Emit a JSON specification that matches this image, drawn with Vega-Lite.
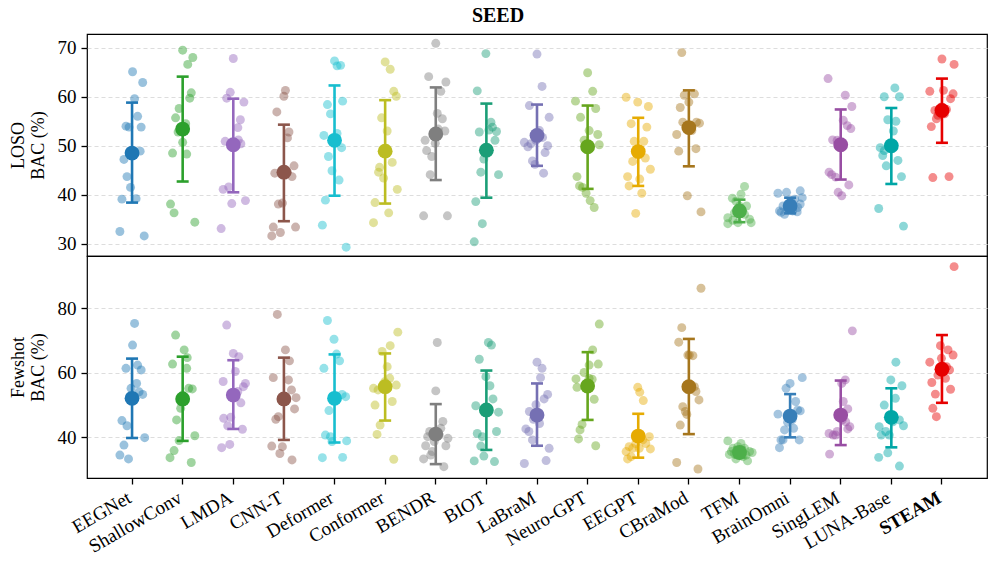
{
  "$schema": "https://vega.github.io/schema/vega-lite/v6.json",
  "background": "white",
  "padding": {"left": 8, "top": 6, "right": 5, "bottom": 5},
  "bounds": "flush",
  "title": {"text": "SEED", "font": "Liberation Serif", "fontSize": 20, "fontWeight": "bold", "color": "black", "anchor": "middle", "offset": 7},
  "config": {
    "font": "Liberation Serif",
    "view": {"stroke": "black", "strokeWidth": 1.2},
    "axis": {
      "domain": false,
      "labelFont": "Liberation Serif",
      "labelFontSize": 19,
      "labelColor": "black",
      "tickColor": "black",
      "tickSize": 6,
      "tickWidth": 1.3,
      "titleFont": "Liberation Serif",
      "titleFontSize": 18,
      "titleFontWeight": "normal",
      "titleColor": "black",
      "gridColor": "#dddddd",
      "gridDash": [4, 3],
      "gridWidth": 1
    }
  },
  "datasets": {
    "loso": [
      {"m":"EEGNet","j":0.01,"v":65.1},{"m":"EEGNet","j":0.21,"v":62.9},{"m":"EEGNet","j":0.05,"v":59.6},{"m":"EEGNet","j":0.11,"v":56.0},{"m":"EEGNet","j":-0.12,"v":54.0},{"m":"EEGNet","j":0.18,"v":53.8},{"m":"EEGNet","j":-0.06,"v":53.8},{"m":"EEGNet","j":0.16,"v":48.9},{"m":"EEGNet","j":-0.16,"v":47.2},{"m":"EEGNet","j":-0.10,"v":43.7},{"m":"EEGNet","j":-0.03,"v":41.5},{"m":"EEGNet","j":-0.2,"v":39.1},{"m":"EEGNet","j":0.08,"v":39.2},{"m":"EEGNet","j":-0.24,"v":32.5},{"m":"EEGNet","j":0.24,"v":31.6},
      {"m":"ShallowConv","j":0,"v":69.5},{"m":"ShallowConv","j":0.2,"v":68.0},{"m":"ShallowConv","j":0.1,"v":66.6},{"m":"ShallowConv","j":0.17,"v":60.8},{"m":"ShallowConv","j":0.14,"v":59.7},{"m":"ShallowConv","j":-0.07,"v":57.6},{"m":"ShallowConv","j":-0.14,"v":55.7},{"m":"ShallowConv","j":-0.09,"v":52.8},{"m":"ShallowConv","j":0,"v":50.7},{"m":"ShallowConv","j":-0.2,"v":48.5},{"m":"ShallowConv","j":0.08,"v":48.3},{"m":"ShallowConv","j":-0.24,"v":38.1},{"m":"ShallowConv","j":-0.17,"v":36.3},{"m":"ShallowConv","j":0.24,"v":34.4},{"m":"ShallowConv","j":0.06,"v":54.5},
      {"m":"LMDA","j":0,"v":67.8},{"m":"LMDA","j":-0.06,"v":60.9},{"m":"LMDA","j":-0.13,"v":59.7},{"m":"LMDA","j":0.21,"v":58.9},{"m":"LMDA","j":0.14,"v":55.3},{"m":"LMDA","j":0.09,"v":53.7},{"m":"LMDA","j":-0.16,"v":50.9},{"m":"LMDA","j":0.15,"v":50.4},{"m":"LMDA","j":0.1,"v":51.2},{"m":"LMDA","j":-0.2,"v":41.1},{"m":"LMDA","j":-0.09,"v":41.6},{"m":"LMDA","j":-0.03,"v":38.2},{"m":"LMDA","j":0.24,"v":38.8},{"m":"LMDA","j":-0.24,"v":33.1},{"m":"LMDA","j":0.02,"v":50.0},
      {"m":"CNN-T","j":0.03,"v":61.3},{"m":"CNN-T","j":0,"v":60.1},{"m":"CNN-T","j":-0.14,"v":56.9},{"m":"CNN-T","j":0.1,"v":52.8},{"m":"CNN-T","j":0.07,"v":51.6},{"m":"CNN-T","j":0.2,"v":45.9},{"m":"CNN-T","j":-0.18,"v":44.4},{"m":"CNN-T","j":0.16,"v":43.7},{"m":"CNN-T","j":-0.03,"v":38.3},{"m":"CNN-T","j":-0.11,"v":38.1},{"m":"CNN-T","j":-0.21,"v":33.4},{"m":"CNN-T","j":0.23,"v":33.4},{"m":"CNN-T","j":-0.07,"v":32.3},{"m":"CNN-T","j":-0.24,"v":31.6},{"m":"CNN-T","j":0.07,"v":44.6},
      {"m":"Deformer","j":0,"v":67.3},{"m":"Deformer","j":0.12,"v":66.4},{"m":"Deformer","j":0.05,"v":66.3},{"m":"Deformer","j":-0.14,"v":58.4},{"m":"Deformer","j":0.16,"v":59.1},{"m":"Deformer","j":-0.08,"v":56.5},{"m":"Deformer","j":-0.21,"v":52.1},{"m":"Deformer","j":0.05,"v":52.5},{"m":"Deformer","j":0.14,"v":49.6},{"m":"Deformer","j":-0.12,"v":47.8},{"m":"Deformer","j":-0.05,"v":44.9},{"m":"Deformer","j":0.09,"v":43.0},{"m":"Deformer","j":-0.18,"v":38.9},{"m":"Deformer","j":-0.24,"v":33.8},{"m":"Deformer","j":0.23,"v":29.3},
      {"m":"Conformer","j":0,"v":67.1},{"m":"Conformer","j":0.1,"v":65.6},{"m":"Conformer","j":0.17,"v":61.1},{"m":"Conformer","j":0.22,"v":60.1},{"m":"Conformer","j":-0.07,"v":55.7},{"m":"Conformer","j":0.04,"v":53.0},{"m":"Conformer","j":-0.11,"v":45.6},{"m":"Conformer","j":-0.13,"v":44.6},{"m":"Conformer","j":-0.03,"v":43.4},{"m":"Conformer","j":0.14,"v":46.6},{"m":"Conformer","j":0.24,"v":41.1},{"m":"Conformer","j":-0.2,"v":38.4},{"m":"Conformer","j":0.07,"v":36.3},{"m":"Conformer","j":-0.23,"v":34.3},{"m":"Conformer","j":0.02,"v":49.5},
      {"m":"BENDR","j":0,"v":70.9},{"m":"BENDR","j":-0.14,"v":64.1},{"m":"BENDR","j":0.2,"v":63.0},{"m":"BENDR","j":0.1,"v":61.1},{"m":"BENDR","j":0.13,"v":55.5},{"m":"BENDR","j":0.18,"v":53.0},{"m":"BENDR","j":0.05,"v":53.4},{"m":"BENDR","j":-0.21,"v":51.1},{"m":"BENDR","j":-0.18,"v":49.0},{"m":"BENDR","j":-0.08,"v":47.8},{"m":"BENDR","j":-0.11,"v":44.1},{"m":"BENDR","j":-0.24,"v":35.7},{"m":"BENDR","j":0.23,"v":35.7},{"m":"BENDR","j":-0.01,"v":50.5},{"m":"BENDR","j":0.03,"v":56.6},
      {"m":"BIOT","j":-0.01,"v":68.8},{"m":"BIOT","j":-0.18,"v":61.2},{"m":"BIOT","j":0.09,"v":54.8},{"m":"BIOT","j":0.05,"v":53.2},{"m":"BIOT","j":0.2,"v":52.9},{"m":"BIOT","j":-0.14,"v":52.8},{"m":"BIOT","j":0.17,"v":51.1},{"m":"BIOT","j":-0.05,"v":49.0},{"m":"BIOT","j":-0.05,"v":47.3},{"m":"BIOT","j":-0.11,"v":44.6},{"m":"BIOT","j":0.24,"v":44.1},{"m":"BIOT","j":-0.21,"v":38.6},{"m":"BIOT","j":-0.08,"v":34.1},{"m":"BIOT","j":-0.24,"v":30.4},{"m":"BIOT","j":0.12,"v":53.8},
      {"m":"LaBraM","j":0,"v":68.7},{"m":"LaBraM","j":0.1,"v":62.1},{"m":"LaBraM","j":-0.15,"v":58.2},{"m":"LaBraM","j":0.24,"v":55.8},{"m":"LaBraM","j":-0.25,"v":50.7},{"m":"LaBraM","j":-0.18,"v":49.8},{"m":"LaBraM","j":0.21,"v":50.0},{"m":"LaBraM","j":0.16,"v":48.6},{"m":"LaBraM","j":-0.09,"v":46.9},{"m":"LaBraM","j":-0.04,"v":46.2},{"m":"LaBraM","j":0.13,"v":44.4},{"m":"LaBraM","j":0.05,"v":53.1},{"m":"LaBraM","j":-0.02,"v":51.1},{"m":"LaBraM","j":-0.12,"v":50.4},{"m":"LaBraM","j":0.11,"v":51.7},
      {"m":"Neuro-GPT","j":0,"v":64.9},{"m":"Neuro-GPT","j":0.1,"v":61.1},{"m":"Neuro-GPT","j":-0.24,"v":59.1},{"m":"Neuro-GPT","j":0.16,"v":57.6},{"m":"Neuro-GPT","j":-0.14,"v":55.8},{"m":"Neuro-GPT","j":0.2,"v":52.3},{"m":"Neuro-GPT","j":-0.07,"v":51.1},{"m":"Neuro-GPT","j":0.23,"v":50.2},{"m":"Neuro-GPT","j":-0.21,"v":43.7},{"m":"Neuro-GPT","j":-0.16,"v":41.8},{"m":"Neuro-GPT","j":-0.1,"v":41.5},{"m":"Neuro-GPT","j":-0.03,"v":40.3},{"m":"Neuro-GPT","j":0.05,"v":38.8},{"m":"Neuro-GPT","j":0.13,"v":37.4},{"m":"Neuro-GPT","j":0.03,"v":53.1},
      {"m":"EEGPT","j":-0.24,"v":59.9},{"m":"EEGPT","j":-0.01,"v":58.9},{"m":"EEGPT","j":0.2,"v":58.0},{"m":"EEGPT","j":-0.14,"v":54.5},{"m":"EEGPT","j":0.17,"v":53.8},{"m":"EEGPT","j":-0.08,"v":50.9},{"m":"EEGPT","j":0.11,"v":50.9},{"m":"EEGPT","j":0.14,"v":47.5},{"m":"EEGPT","j":-0.11,"v":46.8},{"m":"EEGPT","j":0.24,"v":45.2},{"m":"EEGPT","j":-0.21,"v":43.7},{"m":"EEGPT","j":0.03,"v":43.2},{"m":"EEGPT","j":-0.18,"v":41.8},{"m":"EEGPT","j":0.07,"v":40.3},{"m":"EEGPT","j":-0.05,"v":36.2},
      {"m":"CBraMod","j":-0.14,"v":69.0},{"m":"CBraMod","j":0.11,"v":60.6},{"m":"CBraMod","j":-0.09,"v":60.3},{"m":"CBraMod","j":0,"v":58.9},{"m":"CBraMod","j":-0.17,"v":57.8},{"m":"CBraMod","j":-0.12,"v":54.8},{"m":"CBraMod","j":0.21,"v":54.6},{"m":"CBraMod","j":0.15,"v":54.8},{"m":"CBraMod","j":-0.24,"v":52.3},{"m":"CBraMod","j":0.06,"v":53.1},{"m":"CBraMod","j":0.14,"v":49.4},{"m":"CBraMod","j":-0.2,"v":48.9},{"m":"CBraMod","j":-0.03,"v":39.8},{"m":"CBraMod","j":0.24,"v":36.5},{"m":"CBraMod","j":0.01,"v":53.1},
      {"m":"TFM","j":0.1,"v":41.7},{"m":"TFM","j":0.03,"v":40.1},{"m":"TFM","j":-0.14,"v":39.3},{"m":"TFM","j":0.14,"v":37.7},{"m":"TFM","j":-0.23,"v":35.3},{"m":"TFM","j":-0.23,"v":34.1},{"m":"TFM","j":0.23,"v":34.3},{"m":"TFM","j":-0.03,"v":34.3},{"m":"TFM","j":-0.1,"v":36.3},{"m":"TFM","j":0.1,"v":36.0},{"m":"TFM","j":0,"v":37.7},{"m":"TFM","j":-0.13,"v":34.8},{"m":"TFM","j":0.2,"v":35.0},{"m":"TFM","j":-0.07,"v":38.7},{"m":"TFM","j":0.05,"v":36.7},
      {"m":"BrainOmni","j":-0.24,"v":40.3},{"m":"BrainOmni","j":-0.07,"v":40.5},{"m":"BrainOmni","j":0.2,"v":40.8},{"m":"BrainOmni","j":0.24,"v":39.4},{"m":"BrainOmni","j":0.09,"v":39.1},{"m":"BrainOmni","j":0.2,"v":38.1},{"m":"BrainOmni","j":-0.18,"v":36.4},{"m":"BrainOmni","j":-0.21,"v":36.7},{"m":"BrainOmni","j":-0.11,"v":36.0},{"m":"BrainOmni","j":0.14,"v":36.5},{"m":"BrainOmni","j":0.02,"v":38.7},{"m":"BrainOmni","j":-0.05,"v":37.4},{"m":"BrainOmni","j":-0.14,"v":37.7},{"m":"BrainOmni","j":0.15,"v":37.4},{"m":"BrainOmni","j":0.05,"v":36.7},
      {"m":"SingLEM","j":-0.25,"v":63.7},{"m":"SingLEM","j":0.09,"v":60.3},{"m":"SingLEM","j":0.22,"v":58.0},{"m":"SingLEM","j":0.05,"v":55.2},{"m":"SingLEM","j":0.13,"v":54.1},{"m":"SingLEM","j":0.2,"v":53.5},{"m":"SingLEM","j":-0.16,"v":51.2},{"m":"SingLEM","j":-0.07,"v":51.1},{"m":"SingLEM","j":-0.23,"v":44.6},{"m":"SingLEM","j":-0.18,"v":44.1},{"m":"SingLEM","j":0.16,"v":42.0},{"m":"SingLEM","j":-0.05,"v":40.5},{"m":"SingLEM","j":0.02,"v":39.8},{"m":"SingLEM","j":0.03,"v":50.4},{"m":"SingLEM","j":-0.1,"v":43.6},
      {"m":"LUNA-Base","j":0.07,"v":61.8},{"m":"LUNA-Base","j":-0.14,"v":60.0},{"m":"LUNA-Base","j":0.16,"v":60.0},{"m":"LUNA-Base","j":-0.07,"v":55.3},{"m":"LUNA-Base","j":0.09,"v":55.0},{"m":"LUNA-Base","j":0.04,"v":53.0},{"m":"LUNA-Base","j":-0.22,"v":49.6},{"m":"LUNA-Base","j":-0.17,"v":48.0},{"m":"LUNA-Base","j":0.13,"v":47.0},{"m":"LUNA-Base","j":-0.1,"v":45.9},{"m":"LUNA-Base","j":0.2,"v":43.7},{"m":"LUNA-Base","j":-0.25,"v":37.2},{"m":"LUNA-Base","j":0.24,"v":33.6},{"m":"LUNA-Base","j":-0.04,"v":50.4},{"m":"LUNA-Base","j":-0.14,"v":49.0},
      {"m":"STEAM","j":0,"v":67.7},{"m":"STEAM","j":0.24,"v":66.6},{"m":"STEAM","j":-0.24,"v":61.1},{"m":"STEAM","j":0.03,"v":61.3},{"m":"STEAM","j":0.22,"v":60.6},{"m":"STEAM","j":0.17,"v":59.6},{"m":"STEAM","j":-0.14,"v":57.2},{"m":"STEAM","j":0.09,"v":57.4},{"m":"STEAM","j":-0.08,"v":56.2},{"m":"STEAM","j":-0.11,"v":55.5},{"m":"STEAM","j":-0.21,"v":53.9},{"m":"STEAM","j":-0.18,"v":43.5},{"m":"STEAM","j":0.14,"v":43.7},{"m":"STEAM","j":-0.01,"v":57.9},{"m":"STEAM","j":0.05,"v":56.5}
    ],
    "few": [
      {"m":"EEGNet","j":0.05,"v":75.3},{"m":"EEGNet","j":0.01,"v":68.6},{"m":"EEGNet","j":-0.12,"v":61.4},{"m":"EEGNet","j":0.11,"v":62.4},{"m":"EEGNet","j":0.18,"v":60.9},{"m":"EEGNet","j":0.09,"v":56.7},{"m":"EEGNet","j":-0.02,"v":55.2},{"m":"EEGNet","j":0.21,"v":53.3},{"m":"EEGNet","j":-0.2,"v":45.2},{"m":"EEGNet","j":-0.1,"v":43.6},{"m":"EEGNet","j":0.25,"v":39.9},{"m":"EEGNet","j":-0.16,"v":37.6},{"m":"EEGNet","j":-0.24,"v":34.5},{"m":"EEGNet","j":-0.07,"v":33.3},{"m":"EEGNet","j":0.14,"v":54.1},
      {"m":"ShallowConv","j":-0.14,"v":71.7},{"m":"ShallowConv","j":0.03,"v":67.1},{"m":"ShallowConv","j":0.09,"v":64.7},{"m":"ShallowConv","j":-0.2,"v":62.7},{"m":"ShallowConv","j":0.08,"v":61.4},{"m":"ShallowConv","j":0.19,"v":55.0},{"m":"ShallowConv","j":-0.04,"v":49.0},{"m":"ShallowConv","j":-0.12,"v":45.4},{"m":"ShallowConv","j":-0.07,"v":39.0},{"m":"ShallowConv","j":0.24,"v":40.5},{"m":"ShallowConv","j":-0.17,"v":35.9},{"m":"ShallowConv","j":-0.25,"v":33.7},{"m":"ShallowConv","j":0.17,"v":32.2},{"m":"ShallowConv","j":0.12,"v":55.2},{"m":"ShallowConv","j":0,"v":53.1},
      {"m":"LMDA","j":-0.13,"v":74.8},{"m":"LMDA","j":0,"v":66.0},{"m":"LMDA","j":0.11,"v":65.0},{"m":"LMDA","j":0.04,"v":60.4},{"m":"LMDA","j":-0.2,"v":57.3},{"m":"LMDA","j":0.24,"v":56.7},{"m":"LMDA","j":0.2,"v":55.7},{"m":"LMDA","j":0.15,"v":50.7},{"m":"LMDA","j":-0.19,"v":45.9},{"m":"LMDA","j":-0.05,"v":46.2},{"m":"LMDA","j":-0.11,"v":43.6},{"m":"LMDA","j":0.18,"v":42.5},{"m":"LMDA","j":-0.23,"v":36.8},{"m":"LMDA","j":-0.07,"v":37.8},{"m":"LMDA","j":0.09,"v":54.2},
      {"m":"CNN-T","j":-0.13,"v":78.1},{"m":"CNN-T","j":0.03,"v":67.1},{"m":"CNN-T","j":0.11,"v":63.7},{"m":"CNN-T","j":-0.21,"v":58.5},{"m":"CNN-T","j":0.09,"v":57.8},{"m":"CNN-T","j":0.15,"v":54.7},{"m":"CNN-T","j":0.24,"v":52.3},{"m":"CNN-T","j":0.21,"v":48.8},{"m":"CNN-T","j":-0.16,"v":45.6},{"m":"CNN-T","j":-0.11,"v":46.4},{"m":"CNN-T","j":-0.24,"v":37.3},{"m":"CNN-T","j":-0.03,"v":37.1},{"m":"CNN-T","j":-0.08,"v":35.0},{"m":"CNN-T","j":0.16,"v":33.0},{"m":"CNN-T","j":0,"v":51.1},
      {"m":"Deformer","j":-0.14,"v":76.2},{"m":"Deformer","j":-0.01,"v":70.4},{"m":"Deformer","j":0.04,"v":65.8},{"m":"Deformer","j":0.1,"v":63.7},{"m":"Deformer","j":-0.21,"v":61.4},{"m":"Deformer","j":0.15,"v":53.3},{"m":"Deformer","j":0.22,"v":52.6},{"m":"Deformer","j":-0.11,"v":48.3},{"m":"Deformer","j":-0.18,"v":40.7},{"m":"Deformer","j":-0.05,"v":38.7},{"m":"Deformer","j":0.24,"v":38.9},{"m":"Deformer","j":-0.24,"v":33.7},{"m":"Deformer","j":0.16,"v":33.8},{"m":"Deformer","j":0.02,"v":52.1},{"m":"Deformer","j":-0.08,"v":40.2},
      {"m":"Conformer","j":0.25,"v":72.6},{"m":"Conformer","j":0.1,"v":68.4},{"m":"Conformer","j":-0.06,"v":66.6},{"m":"Conformer","j":0.04,"v":61.9},{"m":"Conformer","j":0.09,"v":58.3},{"m":"Conformer","j":0.22,"v":56.2},{"m":"Conformer","j":-0.23,"v":55.2},{"m":"Conformer","j":-0.14,"v":54.7},{"m":"Conformer","j":0.14,"v":51.1},{"m":"Conformer","j":-0.2,"v":50.0},{"m":"Conformer","j":-0.1,"v":43.8},{"m":"Conformer","j":-0.16,"v":40.9},{"m":"Conformer","j":0.17,"v":33.2},{"m":"Conformer","j":-0.01,"v":57.2},{"m":"Conformer","j":0.05,"v":55.2},
      {"m":"BENDR","j":0.03,"v":69.4},{"m":"BENDR","j":0,"v":54.4},{"m":"BENDR","j":0.14,"v":44.9},{"m":"BENDR","j":-0.12,"v":41.8},{"m":"BENDR","j":0.24,"v":39.7},{"m":"BENDR","j":-0.2,"v":37.4},{"m":"BENDR","j":0.2,"v":37.4},{"m":"BENDR","j":-0.07,"v":35.6},{"m":"BENDR","j":-0.24,"v":33.3},{"m":"BENDR","j":0.16,"v":30.9},{"m":"BENDR","j":0.07,"v":40.7},{"m":"BENDR","j":-0.03,"v":38.7},{"m":"BENDR","j":-0.16,"v":40.2},{"m":"BENDR","j":-0.1,"v":34.5},{"m":"BENDR","j":0.1,"v":42.8},
      {"m":"BIOT","j":0.04,"v":69.4},{"m":"BIOT","j":0.1,"v":68.6},{"m":"BIOT","j":-0.14,"v":64.2},{"m":"BIOT","j":-0.01,"v":58.8},{"m":"BIOT","j":0.07,"v":56.0},{"m":"BIOT","j":0.13,"v":51.9},{"m":"BIOT","j":-0.21,"v":49.8},{"m":"BIOT","j":0.24,"v":47.8},{"m":"BIOT","j":0.2,"v":41.8},{"m":"BIOT","j":-0.18,"v":41.2},{"m":"BIOT","j":-0.08,"v":40.2},{"m":"BIOT","j":-0.11,"v":37.3},{"m":"BIOT","j":-0.05,"v":34.2},{"m":"BIOT","j":-0.24,"v":32.7},{"m":"BIOT","j":0.16,"v":32.5},
      {"m":"LaBraM","j":0,"v":63.3},{"m":"LaBraM","j":0.1,"v":61.4},{"m":"LaBraM","j":0.07,"v":58.5},{"m":"LaBraM","j":0.21,"v":53.3},{"m":"LaBraM","j":0.14,"v":51.9},{"m":"LaBraM","j":-0.15,"v":48.0},{"m":"LaBraM","j":-0.07,"v":45.6},{"m":"LaBraM","j":-0.22,"v":42.6},{"m":"LaBraM","j":-0.16,"v":41.8},{"m":"LaBraM","j":-0.09,"v":39.2},{"m":"LaBraM","j":0.24,"v":36.6},{"m":"LaBraM","j":-0.25,"v":31.9},{"m":"LaBraM","j":0.18,"v":32.8},{"m":"LaBraM","j":0.05,"v":44.3},{"m":"LaBraM","j":-0.02,"v":50.1},
      {"m":"Neuro-GPT","j":0.23,"v":75.1},{"m":"Neuro-GPT","j":0.1,"v":67.1},{"m":"Neuro-GPT","j":0.21,"v":62.7},{"m":"Neuro-GPT","j":0.03,"v":62.4},{"m":"Neuro-GPT","j":-0.07,"v":60.1},{"m":"Neuro-GPT","j":-0.23,"v":58.1},{"m":"Neuro-GPT","j":0.09,"v":58.0},{"m":"Neuro-GPT","j":-0.21,"v":55.5},{"m":"Neuro-GPT","j":0.13,"v":51.8},{"m":"Neuro-GPT","j":-0.11,"v":44.0},{"m":"Neuro-GPT","j":-0.15,"v":42.3},{"m":"Neuro-GPT","j":-0.18,"v":39.5},{"m":"Neuro-GPT","j":0.16,"v":37.4},{"m":"Neuro-GPT","j":-0.03,"v":55.2},{"m":"Neuro-GPT","j":0.03,"v":58.3},
      {"m":"EEGPT","j":-0.01,"v":55.5},{"m":"EEGPT","j":0.03,"v":54.0},{"m":"EEGPT","j":0.1,"v":51.4},{"m":"EEGPT","j":0.22,"v":40.2},{"m":"EEGPT","j":0.15,"v":38.1},{"m":"EEGPT","j":0.24,"v":36.4},{"m":"EEGPT","j":-0.18,"v":37.1},{"m":"EEGPT","j":-0.24,"v":35.6},{"m":"EEGPT","j":-0.11,"v":36.6},{"m":"EEGPT","j":-0.21,"v":33.3},{"m":"EEGPT","j":-0.14,"v":34.0},{"m":"EEGPT","j":0.09,"v":39.2},{"m":"EEGPT","j":-0.05,"v":38.1},{"m":"EEGPT","j":0.02,"v":36.6},{"m":"EEGPT","j":0.05,"v":40.2},
      {"m":"CBraMod","j":0.24,"v":86.2},{"m":"CBraMod","j":-0.14,"v":74.0},{"m":"CBraMod","j":-0.2,"v":69.5},{"m":"CBraMod","j":0.01,"v":65.5},{"m":"CBraMod","j":0.08,"v":65.3},{"m":"CBraMod","j":0.14,"v":54.2},{"m":"CBraMod","j":0.2,"v":51.6},{"m":"CBraMod","j":-0.12,"v":49.5},{"m":"CBraMod","j":-0.07,"v":48.0},{"m":"CBraMod","j":-0.04,"v":47.1},{"m":"CBraMod","j":-0.17,"v":43.8},{"m":"CBraMod","j":-0.24,"v":32.2},{"m":"CBraMod","j":0.18,"v":30.2},{"m":"CBraMod","j":-0.02,"v":65.5},{"m":"CBraMod","j":0.11,"v":55.7},
      {"m":"TFM","j":-0.23,"v":38.9},{"m":"TFM","j":0.03,"v":38.1},{"m":"TFM","j":-0.13,"v":36.6},{"m":"TFM","j":0.2,"v":35.6},{"m":"TFM","j":0.25,"v":35.3},{"m":"TFM","j":-0.2,"v":34.7},{"m":"TFM","j":-0.07,"v":33.3},{"m":"TFM","j":0.16,"v":32.7},{"m":"TFM","j":0,"v":34.5},{"m":"TFM","j":0.1,"v":36.6},{"m":"TFM","j":-0.1,"v":35.0},{"m":"TFM","j":0.07,"v":34.0},{"m":"TFM","j":-0.03,"v":37.1},{"m":"TFM","j":-0.16,"v":35.6},{"m":"TFM","j":0.13,"v":34.5},
      {"m":"BrainOmni","j":0.24,"v":58.5},{"m":"BrainOmni","j":0,"v":56.7},{"m":"BrainOmni","j":-0.08,"v":55.2},{"m":"BrainOmni","j":0.11,"v":51.1},{"m":"BrainOmni","j":0.2,"v":48.2},{"m":"BrainOmni","j":-0.24,"v":47.2},{"m":"BrainOmni","j":0.15,"v":48.5},{"m":"BrainOmni","j":0.07,"v":42.8},{"m":"BrainOmni","j":-0.11,"v":42.3},{"m":"BrainOmni","j":-0.14,"v":39.2},{"m":"BrainOmni","j":0.18,"v":39.2},{"m":"BrainOmni","j":-0.21,"v":36.8},{"m":"BrainOmni","j":-0.05,"v":44.7},{"m":"BrainOmni","j":0.04,"v":45.4},{"m":"BrainOmni","j":-0.18,"v":39.2},
      {"m":"SingLEM","j":0.23,"v":73.0},{"m":"SingLEM","j":0.09,"v":57.8},{"m":"SingLEM","j":0.02,"v":56.7},{"m":"SingLEM","j":0.05,"v":51.1},{"m":"SingLEM","j":0.14,"v":48.8},{"m":"SingLEM","j":-0.23,"v":41.2},{"m":"SingLEM","j":-0.15,"v":40.7},{"m":"SingLEM","j":-0.07,"v":41.8},{"m":"SingLEM","j":0.18,"v":43.3},{"m":"SingLEM","j":0.14,"v":42.6},{"m":"SingLEM","j":-0.22,"v":34.8},{"m":"SingLEM","j":-0.03,"v":46.9},{"m":"SingLEM","j":0.03,"v":45.4},{"m":"SingLEM","j":-0.1,"v":40.7},{"m":"SingLEM","j":0.1,"v":44.8},
      {"m":"LUNA-Base","j":0.09,"v":63.3},{"m":"LUNA-Base","j":-0.01,"v":57.8},{"m":"LUNA-Base","j":0.21,"v":56.0},{"m":"LUNA-Base","j":0.08,"v":52.1},{"m":"LUNA-Base","j":-0.14,"v":50.0},{"m":"LUNA-Base","j":0.16,"v":45.4},{"m":"LUNA-Base","j":0.24,"v":43.6},{"m":"LUNA-Base","j":-0.24,"v":43.3},{"m":"LUNA-Base","j":-0.11,"v":41.8},{"m":"LUNA-Base","j":-0.2,"v":40.7},{"m":"LUNA-Base","j":-0.04,"v":40.7},{"m":"LUNA-Base","j":-0.07,"v":35.2},{"m":"LUNA-Base","j":-0.25,"v":33.8},{"m":"LUNA-Base","j":0.16,"v":31.1},{"m":"LUNA-Base","j":0.03,"v":44.8},
      {"m":"STEAM","j":0.24,"v":92.9},{"m":"STEAM","j":-0.03,"v":68.4},{"m":"STEAM","j":0.12,"v":67.1},{"m":"STEAM","j":0.22,"v":65.5},{"m":"STEAM","j":-0.24,"v":63.3},{"m":"STEAM","j":0.09,"v":61.9},{"m":"STEAM","j":0.15,"v":60.9},{"m":"STEAM","j":-0.2,"v":57.0},{"m":"STEAM","j":0.07,"v":58.3},{"m":"STEAM","j":-0.13,"v":53.4},{"m":"STEAM","j":0.17,"v":54.9},{"m":"STEAM","j":-0.18,"v":49.0},{"m":"STEAM","j":-0.11,"v":46.4},{"m":"STEAM","j":-0.01,"v":64.5},{"m":"STEAM","j":-0.08,"v":59.3}
    ],
    "sloso": [
      {"m":"EEGNet","mean":48.5,"lo":38.4,"hi":58.8},{"m":"ShallowConv","mean":53.4,"lo":42.7,"hi":64.1},{"m":"LMDA","mean":50.2,"lo":40.5,"hi":59.6},{"m":"CNN-T","mean":44.6,"lo":34.6,"hi":54.3},{"m":"Deformer","mean":51.1,"lo":39.8,"hi":62.3},{"m":"Conformer","mean":48.9,"lo":38.2,"hi":59.3},{"m":"BENDR","mean":52.4,"lo":43.0,"hi":61.9},{"m":"BIOT","mean":49.1,"lo":39.4,"hi":58.6},{"m":"LaBraM","mean":52.1,"lo":45.9,"hi":58.4},{"m":"Neuro-GPT","mean":49.8,"lo":41.2,"hi":58.2},{"m":"EEGPT","mean":48.8,"lo":41.8,"hi":55.7},{"m":"CBraMod","mean":53.7,"lo":45.8,"hi":61.3},{"m":"TFM","mean":36.7,"lo":34.4,"hi":39.0},{"m":"BrainOmni","mean":37.7,"lo":36.2,"hi":39.4},{"m":"SingLEM","mean":50.2,"lo":43.1,"hi":57.4},{"m":"LUNA-Base","mean":50.0,"lo":42.2,"hi":57.7},{"m":"STEAM","mean":57.2,"lo":50.6,"hi":63.7}
    ],
    "sfew": [
      {"m":"EEGNet","mean":52.1,"lo":39.8,"hi":64.4},{"m":"ShallowConv","mean":51.9,"lo":38.9,"hi":65.0},{"m":"LMDA","mean":53.1,"lo":42.6,"hi":63.9},{"m":"CNN-T","mean":51.9,"lo":39.2,"hi":64.7},{"m":"Deformer","mean":52.1,"lo":38.4,"hi":65.7},{"m":"Conformer","mean":55.7,"lo":45.2,"hi":66.0},{"m":"BENDR","mean":41.0,"lo":31.7,"hi":50.3},{"m":"BIOT","mean":48.5,"lo":36.1,"hi":60.7},{"m":"LaBraM","mean":46.9,"lo":37.4,"hi":56.7},{"m":"Neuro-GPT","mean":55.9,"lo":45.4,"hi":66.4},{"m":"EEGPT","mean":40.4,"lo":33.7,"hi":47.3},{"m":"CBraMod","mean":55.7,"lo":41.0,"hi":70.5},{"m":"TFM","mean":35.3,"lo":33.8,"hi":36.8},{"m":"BrainOmni","mean":46.6,"lo":40.0,"hi":53.4},{"m":"SingLEM","mean":46.9,"lo":37.6,"hi":57.6},{"m":"LUNA-Base","mean":46.2,"lo":36.9,"hi":55.2},{"m":"STEAM","mean":61.1,"lo":50.7,"hi":71.7}
    ]
  },
  "vconcat": [
    {
      "width": 900,
      "height": 222,
      "encoding": {
        "x": {"field": "m", "type": "nominal", "sort": null,
          "scale": {"domain": ["EEGNet","ShallowConv","LMDA","CNN-T","Deformer","Conformer","BENDR","BIOT","LaBraM","Neuro-GPT","EEGPT","CBraMod","TFM","BrainOmni","SingLEM","LUNA-Base","STEAM"], "paddingInner": 0, "paddingOuter": 0.39},
          "axis": null},
        "color": {"field": "m", "type": "nominal", "legend": null,
          "scale": {"domain": ["EEGNet","ShallowConv","LMDA","CNN-T","Deformer","Conformer","BENDR","BIOT","LaBraM","Neuro-GPT","EEGPT","CBraMod","TFM","BrainOmni","SingLEM","LUNA-Base","STEAM"],
            "range": ["#1f77b4","#2ca02c","#9467bd","#8c564b","#17becf","#bcbd22","#7f7f7f","#1b9e77","#7570b3","#66a61e","#e6ab02","#a6761d","#4daf4a","#377eb8","#984ea3","#00a6a6","#e60000"]}}
      },
      "layer": [
        {
          "data": {"name": "loso"},
          "mark": {"type": "circle", "size": 80, "opacity": 0.45},
          "encoding": {
            "xOffset": {"field": "j", "type": "quantitative", "scale": {"domain": [-0.5, 0.5]}},
            "y": {"field": "v", "type": "quantitative",
              "scale": {"domain": [27.5, 72.8], "nice": false, "zero": false},
              "axis": {"values": [30, 40, 50, 60, 70], "grid": true, "title": ["LOSO", "BAC (%)"], "titlePadding": 10, "labelPadding": 5}}
          }
        },
        {
          "data": {"name": "sloso"},
          "mark": {"type": "rule", "strokeWidth": 2.6},
          "encoding": {"y": {"field": "lo", "type": "quantitative"}, "y2": {"field": "hi"}}
        },
        {
          "data": {"name": "sloso"},
          "mark": {"type": "tick", "size": 12, "thickness": 2.6, "opacity": 1},
          "encoding": {"y": {"field": "lo", "type": "quantitative"}}
        },
        {
          "data": {"name": "sloso"},
          "mark": {"type": "tick", "size": 12, "thickness": 2.6, "opacity": 1},
          "encoding": {"y": {"field": "hi", "type": "quantitative"}}
        },
        {
          "data": {"name": "sloso"},
          "mark": {"type": "circle", "size": 220, "opacity": 1},
          "encoding": {"y": {"field": "mean", "type": "quantitative"}}
        }
      ]
    },
    {
      "width": 900,
      "height": 222,
      "encoding": {
        "x": {"field": "m", "type": "nominal", "sort": null,
          "scale": {"domain": ["EEGNet","ShallowConv","LMDA","CNN-T","Deformer","Conformer","BENDR","BIOT","LaBraM","Neuro-GPT","EEGPT","CBraMod","TFM","BrainOmni","SingLEM","LUNA-Base","STEAM"], "paddingInner": 0, "paddingOuter": 0.39},
          "axis": {"title": null, "labelAngle": -30, "labelAlign": "right", "labelBaseline": "top", "labelPadding": 4, "labelOffset": -7,
            "labelFontWeight": {"expr": "datum.value === 'STEAM' ? 'bold' : 'normal'"}}},
        "color": {"field": "m", "type": "nominal", "legend": null,
          "scale": {"domain": ["EEGNet","ShallowConv","LMDA","CNN-T","Deformer","Conformer","BENDR","BIOT","LaBraM","Neuro-GPT","EEGPT","CBraMod","TFM","BrainOmni","SingLEM","LUNA-Base","STEAM"],
            "range": ["#1f77b4","#2ca02c","#9467bd","#8c564b","#17becf","#bcbd22","#7f7f7f","#1b9e77","#7570b3","#66a61e","#e6ab02","#a6761d","#4daf4a","#377eb8","#984ea3","#00a6a6","#e60000"]}}
      },
      "layer": [
        {
          "data": {"name": "few"},
          "mark": {"type": "circle", "size": 80, "opacity": 0.45},
          "encoding": {
            "xOffset": {"field": "j", "type": "quantitative", "scale": {"domain": [-0.5, 0.5]}},
            "y": {"field": "v", "type": "quantitative",
              "scale": {"domain": [27.4, 96.2], "nice": false, "zero": false},
              "axis": {"values": [40, 60, 80], "grid": true, "title": ["Fewshot", "BAC (%)"], "titlePadding": 10, "labelPadding": 5}}
          }
        },
        {
          "data": {"name": "sfew"},
          "mark": {"type": "rule", "strokeWidth": 2.6},
          "encoding": {"y": {"field": "lo", "type": "quantitative"}, "y2": {"field": "hi"}}
        },
        {
          "data": {"name": "sfew"},
          "mark": {"type": "tick", "size": 12, "thickness": 2.6, "opacity": 1},
          "encoding": {"y": {"field": "lo", "type": "quantitative"}}
        },
        {
          "data": {"name": "sfew"},
          "mark": {"type": "tick", "size": 12, "thickness": 2.6, "opacity": 1},
          "encoding": {"y": {"field": "hi", "type": "quantitative"}}
        },
        {
          "data": {"name": "sfew"},
          "mark": {"type": "circle", "size": 220, "opacity": 1},
          "encoding": {"y": {"field": "mean", "type": "quantitative"}}
        }
      ]
    }
  ],
  "spacing": 0
}
